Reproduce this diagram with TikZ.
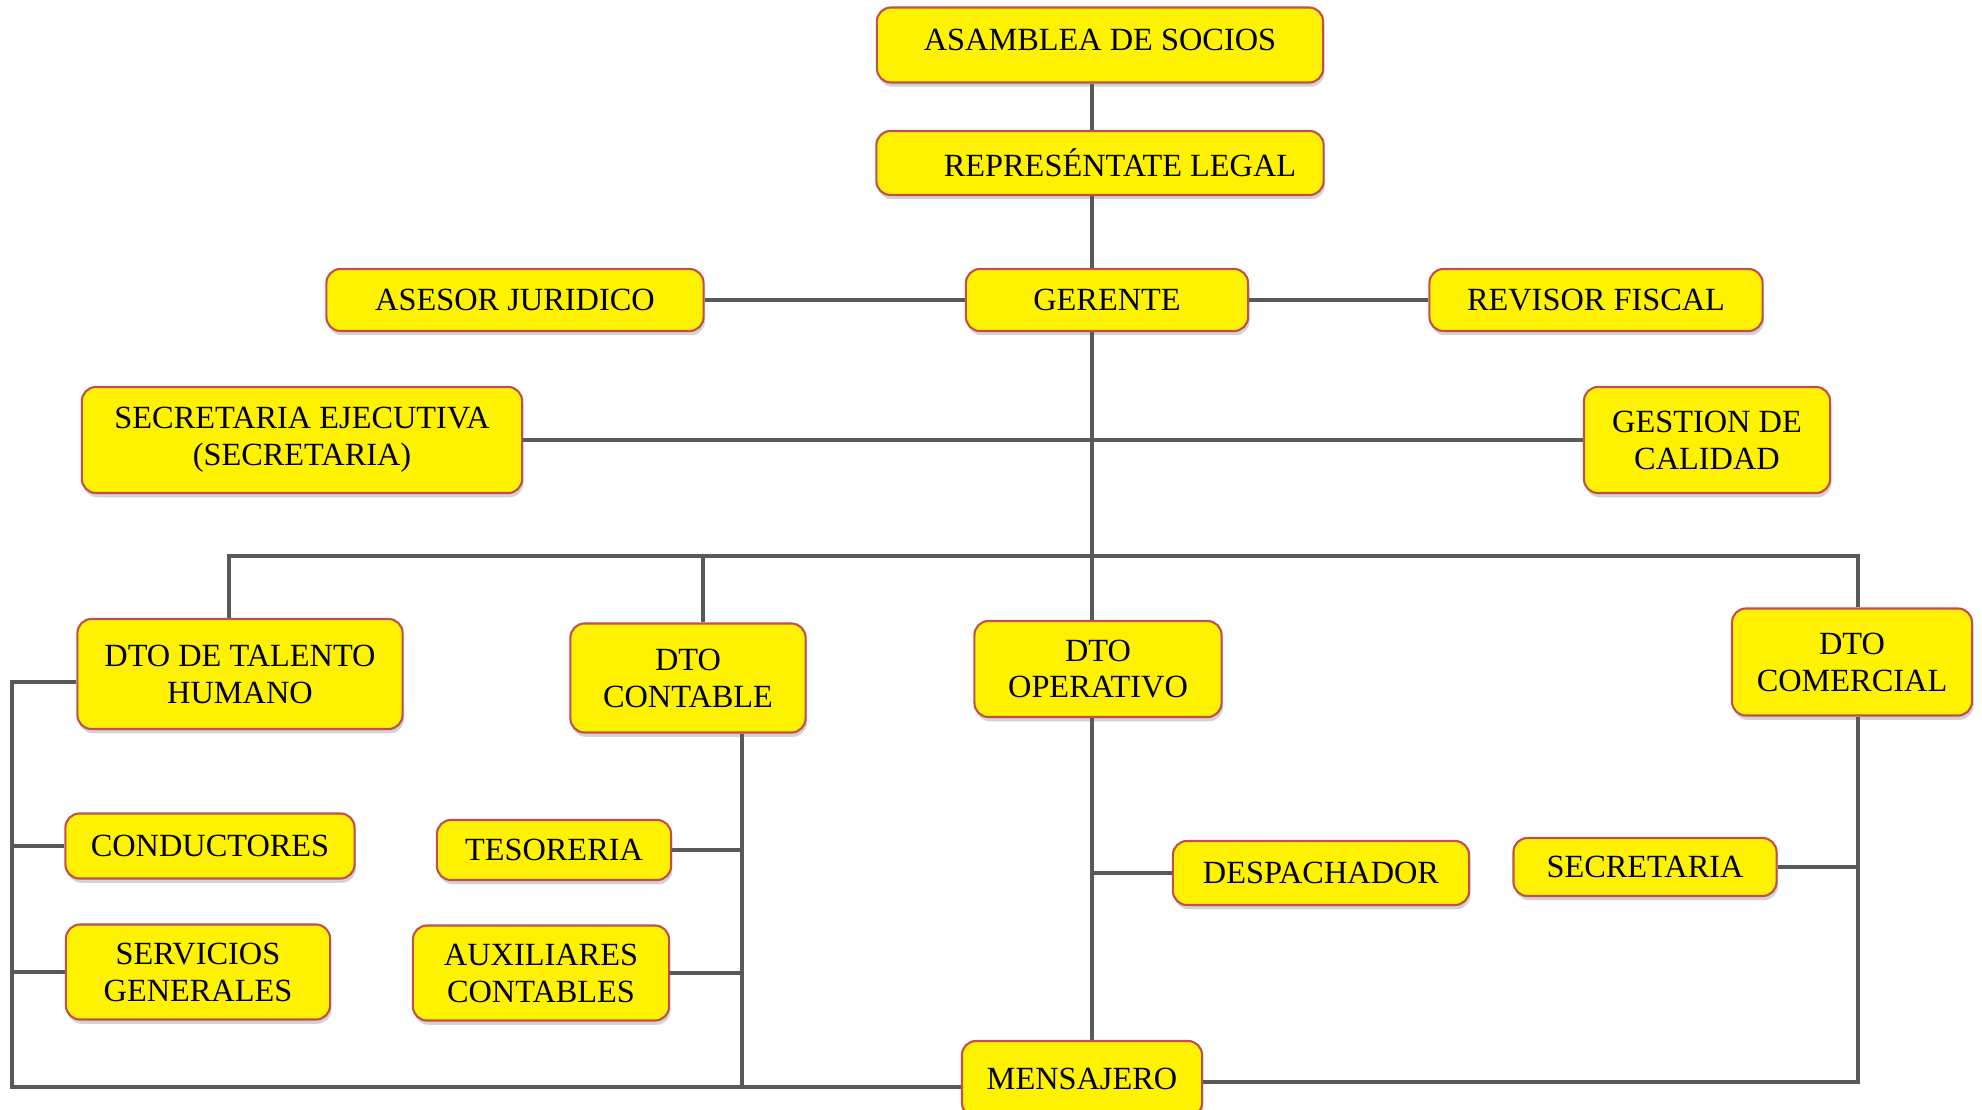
\documentclass[tikz,border=0pt]{standalone}
\usepackage{fontspec}
\setmainfont{Liberation Serif}
\usetikzlibrary{shadows}
\definecolor{boxborder}{HTML}{C0504D}
\definecolor{linegray}{HTML}{595959}

\begin{document}
\begin{tikzpicture}[x=0.01cm, y=-0.01cm, line width=1.4pt, draw=linegray]
    \tikzstyle{unit}=[rectangle, rounded corners=4pt, fill=yellow, draw=boxborder, line width=0.6pt, inner sep=0pt, align=center, font=\fontsize{9.2}{10.5}\selectfont, drop shadow={shadow xshift=0.4pt, shadow yshift=-1.2pt, opacity=0.35}]

    \useasboundingbox (0,0) rectangle (1982,1109);

    % Top of the chart
    \node[unit, minimum width=4.46cm, minimum height=0.75cm, text depth=0.1cm] (asamblea) at (1100,45) {ASAMBLEA DE SOCIOS};
    \node[unit, minimum width=4.47cm, minimum height=0.64cm] (representante) at (1100,163) {\hspace*{0.4cm}REPRESÉNTATE LEGAL};
    \node[unit, minimum width=2.82cm, minimum height=0.62cm] (gerente) at (1107,300) {GERENTE};
    \node[unit, minimum width=3.77cm, minimum height=0.62cm] (asesor) at (515,300) {ASESOR JURIDICO};
    \node[unit, minimum width=3.33cm, minimum height=0.62cm] (revisor) at (1596,300) {REVISOR FISCAL};
    \node[unit, minimum width=4.40cm, minimum height=1.06cm] (secejec) at (302,440) {SECRETARIA EJECUTIVA\\(SECRETARIA)};
    \node[unit, minimum width=2.46cm, minimum height=1.06cm] (calidad) at (1707,440) {GESTION DE\\CALIDAD};

    % Departments
    \node[unit, minimum width=3.25cm, minimum height=1.10cm] (talento) at (240,674) {DTO DE TALENTO\\HUMANO};
    \node[unit, minimum width=2.35cm, minimum height=1.09cm] (contable) at (688,678) {DTO\\CONTABLE};
    \node[unit, minimum width=2.47cm, minimum height=0.96cm] (operativo) at (1098,669) {DTO\\OPERATIVO};
    \node[unit, minimum width=2.40cm, minimum height=1.07cm] (comercial) at (1852,662) {DTO\\COMERCIAL};

    % Staff under the departments
    \node[unit, minimum width=2.89cm, minimum height=0.65cm] (conductores) at (210,846) {CONDUCTORES};
    \node[unit, minimum width=2.64cm, minimum height=0.95cm] (servicios) at (198,972) {SERVICIOS\\GENERALES};
    \node[unit, minimum width=2.34cm, minimum height=0.60cm] (tesoreria) at (554,850) {TESORERIA};
    \node[unit, minimum width=2.56cm, minimum height=0.95cm] (auxiliares) at (541,973) {AUXILIARES\\CONTABLES};
    \node[unit, minimum width=2.96cm, minimum height=0.64cm] (despachador) at (1321,873) {DESPACHADOR};
    \node[unit, minimum width=2.63cm, minimum height=0.58cm] (secretaria) at (1645,867) {SECRETARIA};
    \node[unit, minimum width=2.40cm, minimum height=0.76cm] (mensajero) at (1082,1079) {MENSAJERO};

    \coordinate (bus) at (1092,556);
    \coordinate (lbus) at (12,1087);
    \coordinate (cbus) at (742,1087);
    \coordinate (rbus) at ([xshift=0.06cm]comercial.south);

    % Main trunk
    \draw (asamblea.south -| bus) -- (representante.north -| bus);
    \draw (representante.south -| bus) -- (gerente.north -| bus);
    \draw (gerente.south -| bus) -- (bus);
    \draw (asesor) -- (gerente);
    \draw (gerente) -- (revisor);
    \draw (secejec) -- (calidad);

    % Branch to the departments
    \draw ([xshift=-0.11cm]talento.north) |- (bus) -| (comercial.north -| rbus);
    \draw ([xshift=0.15cm]contable.north) -- ([xshift=0.15cm]contable.north |- bus);
    \draw (bus) -- (operativo.north -| bus);

    % Connect every department with its staff
    \draw ([yshift=-0.08cm]talento.west) -| (lbus) -- (lbus -| mensajero.west);
    \foreach \n in {conductores, servicios}
        \draw (\n.west) -- (\n.west -| lbus);
    \draw (contable.south -| cbus) -- (cbus);
    \foreach \n in {tesoreria, auxiliares}
        \draw (\n.east) -- (\n.east -| cbus);
    \draw (operativo.south -| bus) -- (mensajero.north -| bus);
    \draw (despachador.west) -- (despachador.west -| bus);
    \draw ([yshift=-0.03cm]mensajero.east) -| (rbus);
    \draw (secretaria.east) -- (secretaria.east -| rbus);

\end{tikzpicture}
\end{document}
